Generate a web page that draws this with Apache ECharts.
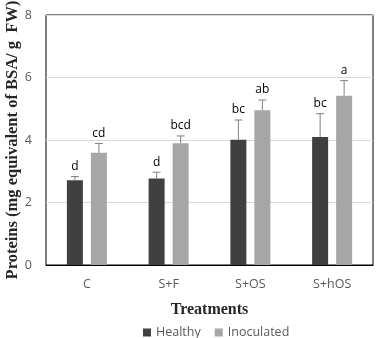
<!DOCTYPE html>
<html>
<head>
<meta charset="utf-8">
<script src="https://cdn.jsdelivr.net/npm/echarts@6/dist/echarts.min.js"></script>
<style>
  html, body { margin: 0; padding: 0; background: #fff; }
  #chart { width: 377px; height: 338px; }
</style>
</head>
<body>
<div id="chart"></div>
<script>
const categories = ["C", "S+F", "S+OS", "S+hOS"];
const healthy = [2.71, 2.77, 4.01, 4.1];
const healthyErr = [0.12, 0.2, 0.63, 0.74];
const healthyLetters = ["d", "d", "bc", "bc"];
const inoculated = [3.59, 3.9, 4.95, 5.42];
const inoculatedErr = [0.3, 0.23, 0.33, 0.48];
const inoculatedLetters = ["cd", "bcd", "ab", "a"];

const tickFont = "Open Sans";
const titleFont = "Liberation Serif";

// draws the upper error bar plus the letter above it, shifted onto its bar
function errorSeries(name, values, errs, letters, shift) {
  return {
    name: name + " err",
    type: "custom",
    z: 5,
    silent: true,
    data: values.map((v, i) => [i, v, errs[i]]),
    renderItem: (params, api) => {
      const i = api.value(0);
      const v = api.value(1);
      const e = api.value(2);
      const base = api.coord([i, v]);
      const top = api.coord([i, v + e]);
      const x = base[0] + shift;
      return {
        type: "group",
        children: [
          { type: "line", shape: { x1: x, y1: base[1], x2: x, y2: top[1] },
            style: { stroke: "#808080", lineWidth: 1 } },
          { type: "line", shape: { x1: x - 4, y1: top[1], x2: x + 4, y2: top[1] },
            style: { stroke: "#808080", lineWidth: 1 } },
          { type: "text", x: x, y: top[1] - 4,
            style: { text: letters[params.dataIndex], fill: "#000", font: "12px " + tickFont,
                     textAlign: "center", textVerticalAlign: "bottom" } }
        ]
      };
    }
  };
}

const chart = echarts.init(document.getElementById("chart"));
chart.setOption({
  animation: false,
  grid: { left: 46, right: 4, top: 15, bottom: 73, outerBoundsMode: "none",
          show: true, borderColor: "#000", borderWidth: 1 },
  legend: {
    data: ["Healthy", "Inoculated"],
    left: 138, top: 321,
    itemWidth: 8, itemHeight: 8, itemGap: 14,
    icon: "rect",
    textStyle: { color: "#595959", fontSize: 12.5, fontFamily: tickFont }
  },
  xAxis: {
    type: "category",
    data: categories,
    name: "Treatments",
    nameLocation: "middle",
    nameGap: 37,
    nameTextStyle: { fontFamily: titleFont, fontWeight: "bold", fontSize: 16, color: "#262626" },
    axisTick: { show: false },
    axisLine: { lineStyle: { color: "#000" } },
    axisLabel: { color: "#595959", fontSize: 12.5, fontFamily: tickFont, margin: 13 }
  },
  yAxis: {
    type: "value",
    min: 0, max: 8, interval: 2,
    name: "Proteins (mg equivalent of BSA/ g  FW)",
    nameLocation: "middle",
    nameGap: 25,
    nameMoveOverlap: false,
    nameTextStyle: { fontFamily: titleFont, fontWeight: "bold", fontSize: 16.5, color: "#262626" },
    axisLine: { show: false },
    axisLabel: { color: "#595959", fontSize: 12.5, fontFamily: tickFont, margin: 14 },
    splitLine: { lineStyle: { color: "#d9d9d9" } }
  },
  series: [
    { name: "Healthy", type: "bar", data: healthy, barWidth: 16, barGap: "50%",
      itemStyle: { color: "#404040" } },
    { name: "Inoculated", type: "bar", data: inoculated, barWidth: 16,
      itemStyle: { color: "#a6a6a6" } },
    errorSeries("Healthy", healthy, healthyErr, healthyLetters, -12),
    errorSeries("Inoculated", inoculated, inoculatedErr, inoculatedLetters, 12)
  ]
});
</script>
</body>
</html>
